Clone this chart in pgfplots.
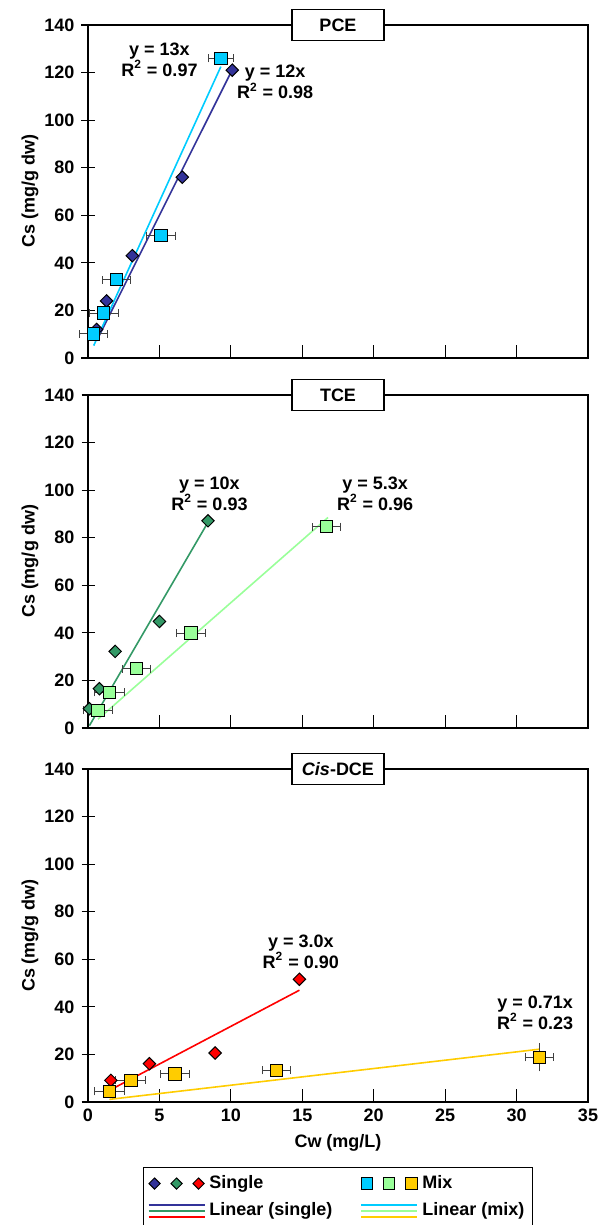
\documentclass[border=0pt]{standalone}
\usepackage{fontspec}
\setmainfont{Liberation Sans}
\usepackage{pgfplots}
\usepackage{pgfplotstable}
\pgfplotsset{compat=1.18}

\definecolor{pceS}{HTML}{333399}
\definecolor{pceM}{HTML}{00CCFF}
\definecolor{tceS}{HTML}{339966}
\definecolor{tceM}{HTML}{99FF99}
\definecolor{dceS}{HTML}{FF0000}
\definecolor{dceM}{HTML}{FFCC00}
\definecolor{ebar}{HTML}{404040}

\newcommand\lf{\bfseries\fontsize{9}{10.5}\selectfont}

% data: x = Cw (mg/L), y = Cs (mg/g dw), ex = error on Cw
\pgfplotstableread{
x y
0.6 12
1.3 24
3.1 43
6.6 76
10.1 121
}\pceS
\pgfplotstableread{
x y ex
0.4 10.1 1.0
1.1 18.9 1.0
2.0 32.9 1.0
5.1 51.4 1.0
9.3 126 0.9
}\pceM
\pgfplotstableread{
x y
0.1 8.1
0.8 16.5
1.9 32.2
5.0 44.8
8.4 87.1
}\tceS
\pgfplotstableread{
x y ex
0.7 7.4 1.0
1.5 15.0 1.05
3.4 24.9 1.0
7.2 39.9 1.0
16.7 84.7 1.0
}\tceM
\pgfplotstableread{
x y
1.6 9.1
4.3 16.1
8.9 20.6
14.8 51.6
}\dceS
\pgfplotstableread{
x y ex
1.5 4.5 1.05
3.0 9.1 1.05
6.1 11.8 1.0
13.2 13.3 1.0
31.6 18.8 1.0
}\dceM

\tikzset{
  note/.style={font=\lf, align=center, inner sep=0pt},
  tbox/.style={draw, fill=white, font=\lf, line width=0.6pt,
    minimum width=46pt, minimum height=15.5pt},
}

\pgfplotsset{
  panel/.style={
    width=250pt, height=166.5pt, scale only axis,
    anchor=south west,
    xmin=0, xmax=35, ymin=0, ymax=140,
    xtick={0,5,...,35}, ytick={0,20,...,140},
    tick pos=left, xtick align=inside, ytick align=center,
    major tick length=6.5pt,
    axis line style={line width=0.6pt},
    tick style={black, line width=0.6pt},
    ticklabel style={font=\lf},
    /pgf/number format/assume math mode=true,
    label style={font=\lf},
    ylabel={Cs (mg/g dw)},
    ylabel style={at={(axis description cs:-0.116,0.5)}, anchor=center},
    clip=false,
  },
  smark/.style={only marks, mark=square*, mark size=2.2pt,
    mark options={rotate=45, draw=black, line width=0.5pt, fill=#1}},
  mmark/.style={only marks, mark=square*, mark size=3.1pt,
    mark options={draw=black, line width=0.5pt, fill=#1}},
  trend/.style={no marks, line width=0.8pt, color=#1},
  xerr/.style={draw=none, mark=none, forget plot,
    error bars/.cd, x dir=both, x explicit,
    error bar style={ebar, line width=0.5pt},
    error mark options={ebar, rotate=90, mark size=2pt, line width=0.5pt}},
}

\begin{document}
\begin{tikzpicture}
\useasboundingbox (0,0) rectangle (299pt,612.5pt);

% ---------- PCE ----------
\begin{axis}[panel, at={(44pt,433.5pt)}, xticklabels={}]
\addplot[trend=pceS] coordinates {(0.6,7.2) (10.1,121.2)};
\addplot[trend=pceM] coordinates {(0.4,5.2) (9.3,122.5)};
\addplot[xerr] table[x=x, y=y, x error=ex] {\pceM};
\addplot[smark=pceS] table[x=x, y=y] {\pceS};
\addplot[mmark=pceM] table[x=x, y=y] {\pceM};
\node[note] at (axis cs:5.0,125.5) {y = 13x\\R\textsuperscript{2} = 0.97};
\node[note] at (axis cs:13.1,116) {y = 12x\\R\textsuperscript{2} = 0.98};
\coordinate (t1) at (rel axis cs:0.5,1);
\end{axis}
\node[tbox] at (t1) {PCE};

% ---------- TCE ----------
\begin{axis}[panel, at={(44pt,248.5pt)}, xticklabels={}]
\addplot[trend=tceS] coordinates {(0.1,1.0) (8.4,86.5)};
\addplot[trend=tceM] coordinates {(0.7,3.7) (16.8,88.5)};
\addplot[xerr] table[x=x, y=y, x error=ex] {\tceM};
\addplot[smark=tceS] table[x=x, y=y] {\tceS};
\addplot[mmark=tceM] table[x=x, y=y] {\tceM};
\node[note] at (axis cs:8.5,98.5) {y = 10x\\R\textsuperscript{2} = 0.93};
\node[note] at (axis cs:20.1,98.5) {y = 5.3x\\R\textsuperscript{2} = 0.96};
\coordinate (t2) at (rel axis cs:0.5,1);
\end{axis}
\node[tbox] at (t2) {TCE};

% ---------- cis-DCE ----------
\begin{axis}[panel, at={(44pt,61.5pt)},
  xlabel={Cw (mg/L)},
  xlabel style={at={(axis description cs:0.5,-0.123)}, anchor=center},
  legend style={at={(0.5,-0.195)}, anchor=north, legend columns=2,
    draw=black, line width=0.6pt, font=\lf, inner sep=2pt,
    /tikz/every even column/.append style={column sep=12pt},
    row sep=1.5pt},
  legend cell align=left]
\addplot[trend=dceS, forget plot] coordinates {(1.6,5.2) (14.8,47)};
\addplot[trend=dceM, forget plot] coordinates {(1.5,1.1) (31.6,22.2)};
\addplot[xerr] table[x=x, y=y, x error=ex] {\dceM};
\addplot[draw=none, mark=none, forget plot,
  error bars/.cd, y dir=both, y explicit,
  error bar style={ebar, line width=0.5pt},
  error mark options={ebar, mark size=2pt, line width=0.5pt}]
  coordinates {(31.6,18.8) +- (0,4.2)};
\addplot[smark=dceS, forget plot] table[x=x, y=y] {\dceS};
\addplot[mmark=dceM, forget plot] table[x=x, y=y] {\dceM};
\node[note] at (axis cs:14.9,63.2) {y = 3.0x\\R\textsuperscript{2} = 0.90};
\node[note] at (axis cs:31.3,37.7) {y = 0.71x\\R\textsuperscript{2} = 0.23};
\coordinate (t3) at (rel axis cs:0.5,1);

\addlegendimage{legend image code/.code={
  \foreach \xx/\cc in {3pt/pceS,14pt/tceS,25pt/dceS}{
    \filldraw[fill=\cc, draw=black, line width=0.5pt]
      (\xx,2.8pt) -- (\xx+2.8pt,0pt) -- (\xx,-2.8pt) -- (\xx-2.8pt,0pt) -- cycle;}
}}
\addlegendentry{Single}
\addlegendimage{legend image code/.code={
  \foreach \xx/\cc in {3pt/pceM,14pt/tceM,25pt/dceM}{
    \filldraw[fill=\cc, draw=black, line width=0.5pt]
      (\xx-2.8pt,-2.8pt) rectangle (\xx+2.8pt,2.8pt);}
}}
\addlegendentry{Mix}
\addlegendimage{legend image code/.code={
  \draw[draw=pceS, line width=0.9pt] (0pt,3pt) -- (28pt,3pt);
  \draw[draw=tceS, line width=0.9pt] (0pt,0pt) -- (28pt,0pt);
  \draw[draw=dceS, line width=0.9pt] (0pt,-3pt) -- (28pt,-3pt);
}}
\addlegendentry{Linear (single)}
\addlegendimage{legend image code/.code={
  \draw[draw=pceM, line width=0.9pt] (0pt,3pt) -- (28pt,3pt);
  \draw[draw=tceM, line width=0.9pt] (0pt,0pt) -- (28pt,0pt);
  \draw[draw=dceM, line width=0.9pt] (0pt,-3pt) -- (28pt,-3pt);
}}
\addlegendentry{Linear (mix)}
\end{axis}
\node[tbox] at (t3) {\textit{Cis}-DCE};
\end{tikzpicture}
\end{document}
